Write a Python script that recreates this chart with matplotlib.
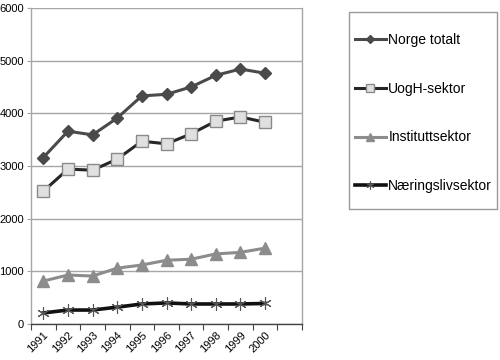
import numpy as np
import matplotlib
matplotlib.use('Agg')
import matplotlib.pyplot as plt
from matplotlib.patches import Rectangle

plt.rcParams['font.family'] = ['Liberation Sans', 'DejaVu Sans']

years = ['1991', '1992', '1993', '1994', '1995', '1996', '1997', '1998', '1999', '2000']
norge_totalt = [3160, 3660, 3590, 3910, 4330, 4360, 4500, 4720, 4840, 4760]
uogh_sektor = [2520, 2940, 2920, 3130, 3470, 3420, 3610, 3850, 3930, 3830]
institutt_sektor = [815, 930, 910, 1060, 1120, 1210, 1230, 1330, 1360, 1440]
naeringsliv_sektor = [210, 265, 265, 320, 380, 400, 380, 380, 380, 390]

fig = plt.figure(figsize=(5, 3.6), dpi=100)
ax = fig.add_axes([0.062, 0.1, 0.542, 0.878])

x = np.arange(len(years)) + 0.5

ax.plot(x, norge_totalt, color='#4a4a4a', lw=2.2, marker='D', ms=6,
        mfc='#4a4a4a', mec='#4a4a4a', label='Norge totalt', zorder=5)
ax.plot(x, uogh_sektor, color='#262626', lw=2.2, marker='s', ms=8,
        mfc='#e0e0e0', mec='#8a8a8a', mew=1, label='UogH-sektor', zorder=5)
ax.plot(x, institutt_sektor, color='#8c8c8c', lw=2.2, marker='^', ms=8,
        mfc='#8c8c8c', mec='#8c8c8c', label='Instituttsektor', zorder=5)
ax.plot(x, naeringsliv_sektor, color='#111111', lw=2.6, marker=(6, 2, 0), ms=9,
        mfc='none', mec='#555555', mew=0.8, label='Næringslivsektor', zorder=5)

ax.set_xlim(0, 11)
ax.set_ylim(0, 6000)
ax.set_yticks(np.arange(0, 6001, 1000))
ax.yaxis.grid(True, color='#a6a6a6', lw=1)
ax.set_axisbelow(True)

ax.set_xticks(np.arange(0, 12))
ax.set_xticklabels([])
ax.set_xticks(x, minor=True)
ax.set_xticklabels(years, minor=True, rotation=45, ha='right',
                   rotation_mode='anchor', fontsize=8)
ax.tick_params(axis='x', which='minor', length=0, pad=4)
ax.tick_params(axis='x', which='major', length=4, color='#444444')
ax.tick_params(axis='y', length=3, color='#a6a6a6', labelsize=8, pad=2)

ax.spines['top'].set_visible(False)
ax.spines['left'].set_color('#a6a6a6')
ax.spines['right'].set_color('#a6a6a6')
ax.spines['bottom'].set_color('#444444')
for s in ax.spines.values():
    s.set_linewidth(1)

# legend box drawn separately so its padding can be uneven
fig.patches.append(Rectangle((349 / 500, 1 - 209 / 360), 148 / 500, 197 / 360,
                             transform=fig.transFigure, fill=False,
                             edgecolor='#999999', lw=1))
leg = fig.legend(loc='upper left', bbox_to_anchor=(355 / 500, 1 - 33 / 360),
                 fontsize=10, frameon=False, labelspacing=2.5,
                 handlelength=2.2, handletextpad=0.2, borderpad=0,
                 borderaxespad=0, markerscale=0.65)

fig.savefig('out.png', dpi=100)
